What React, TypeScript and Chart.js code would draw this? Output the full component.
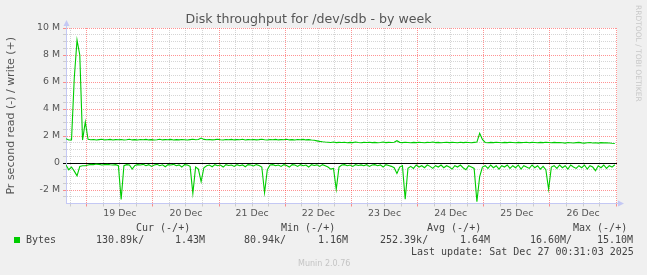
import React, { useEffect, useRef } from 'react';
import { Chart, registerables } from 'chart.js';

Chart.register(...registerables);

// Time axis: hours relative to 19 Dec 00:00, one sample per hour
const START_HOUR = -7.5;
const STEP_HOURS = 1;
const X_MIN = -7.5;
const X_MAX = 192.3;

const DAY_LABELS = ['19 Dec', '20 Dec', '21 Dec', '22 Dec', '23 Dec', '24 Dec', '25 Dec', '26 Dec'];

const TITLE = 'Disk throughput for /dev/sdb - by week';
const Y_TITLE = 'Pr second read (-) / write (+)';

// Write (+) bytes per second, in M
const WRITE_MB = [
  1.80, 1.70, 1.70, 6.30, 9.10, 8.00, 1.70, 3.05, 1.75, 1.72,
  1.74, 1.70, 1.73, 1.76, 1.71, 1.72, 1.75, 1.70, 1.73, 1.72,
  1.74, 1.70, 1.72, 1.76, 1.71, 1.73, 1.70, 1.74, 1.72, 1.75,
  1.71, 1.73, 1.70, 1.72, 1.76, 1.71, 1.73, 1.72, 1.75, 1.70,
  1.73, 1.71, 1.74, 1.72, 1.70, 1.73, 1.76, 1.72, 1.74, 1.85,
  1.75, 1.72, 1.74, 1.71, 1.73, 1.76, 1.72, 1.70, 1.74, 1.72,
  1.75, 1.71, 1.73, 1.72, 1.76, 1.70, 1.73, 1.72, 1.74, 1.71,
  1.73, 1.76, 1.72, 1.70, 1.74, 1.72, 1.75, 1.71, 1.73, 1.72,
  1.76, 1.71, 1.73, 1.70, 1.74, 1.72, 1.75, 1.71, 1.73, 1.70,
  1.68, 1.64, 1.60, 1.57, 1.55, 1.54, 1.52, 1.55, 1.51, 1.53,
  1.52, 1.54, 1.50, 1.53, 1.51, 1.55, 1.52, 1.50, 1.53, 1.52,
  1.54, 1.51, 1.53, 1.50, 1.52, 1.55, 1.51, 1.53, 1.52, 1.54,
  1.65, 1.53, 1.51, 1.54, 1.52, 1.50, 1.53, 1.51, 1.54, 1.52,
  1.50, 1.53, 1.52, 1.55, 1.51, 1.53, 1.50, 1.52, 1.54, 1.51,
  1.53, 1.52, 1.50, 1.54, 1.51, 1.53, 1.52, 1.50, 1.53, 1.55,
  2.20, 1.75, 1.52, 1.50, 1.53, 1.51, 1.54, 1.52, 1.50, 1.53,
  1.51, 1.54, 1.52, 1.50, 1.53, 1.51, 1.52, 1.54, 1.50, 1.53,
  1.52, 1.50, 1.53, 1.51, 1.54, 1.52, 1.50, 1.53, 1.51, 1.52,
  1.50, 1.47, 1.52, 1.50, 1.48, 1.51, 1.53, 1.49, 1.47, 1.50,
  1.52, 1.48, 1.50, 1.47, 1.51, 1.49, 1.50, 1.48, 1.46, 1.45,
];

// Read (-) bytes per second, in M (drawn negative)
const READ_MB = [
  -0.15, -0.50, -0.30, -0.60, -0.95, -0.25, -0.20, -0.20, -0.15, -0.10,
  -0.12, -0.08, -0.10, -0.15, -0.12, -0.10, -0.13, -0.15, -0.12, -0.20,
  -2.70, -0.20, -0.12, -0.15, -0.45, -0.18, -0.12, -0.15, -0.10, -0.20,
  -0.12, -0.25, -0.15, -0.10, -0.20, -0.13, -0.28, -0.12, -0.15, -0.10,
  -0.20, -0.14, -0.30, -0.12, -0.15, -0.25, -2.25, -0.30, -0.45, -1.38,
  -0.35, -0.20, -0.15, -0.28, -0.12, -0.20, -0.15, -0.30, -0.12, -0.18,
  -0.15, -0.25, -0.12, -0.20, -0.14, -0.28, -0.12, -0.15, -0.22, -0.12,
  -0.18, -0.30, -2.20, -0.50, -0.15, -0.12, -0.20, -0.15, -0.25, -0.12,
  -0.18, -0.30, -0.12, -0.15, -0.25, -0.12, -0.20, -0.15, -0.30, -0.12,
  -0.18, -0.14, -0.25, -0.12, -0.20, -0.30, -0.45, -0.40, -1.95, -0.30,
  -0.15, -0.12, -0.20, -0.15, -0.25, -0.12, -0.18, -0.14, -0.20, -0.12,
  -0.25, -0.15, -0.12, -0.20, -0.14, -0.30, -0.12, -0.18, -0.25, -0.35,
  -0.77, -0.30, -0.20, -2.69, -0.40, -0.25, -0.40, -0.15, -0.30, -0.20,
  -0.35, -0.15, -0.25, -0.40, -0.20, -0.30, -0.15, -0.35, -0.20, -0.30,
  -0.45, -0.20, -0.30, -0.15, -0.35, -0.50, -0.20, -0.30, -0.40, -2.86,
  -1.00, -0.30, -0.20, -0.40, -0.15, -0.35, -0.20, -0.45, -0.20, -0.30,
  -0.15, -0.40, -0.20, -0.35, -0.15, -0.45, -0.20, -0.30, -0.40, -0.15,
  -0.35, -0.20, -0.45, -0.25, -0.50, -1.95, -0.30, -0.20, -0.40, -0.15,
  -0.35, -0.20, -0.45, -0.15, -0.30, -0.40, -0.20, -0.35, -0.15, -0.45,
  -0.20, -0.30, -0.57, -0.20, -0.35, -0.15, -0.40, -0.20, -0.30, -0.13,
];

const Y_MIN = -3;
const Y_MAX = 10;
const Y_GRID_STEP = 0.5;
const Y_LABEL_STEP = 2;
const X_GRID_STEP = 6;
const HOURS_PER_DAY = 24;

const LEGEND_HEADERS = ['Cur (-/+)', 'Min (-/+)', 'Avg (-/+)', 'Max (-/+)'];
const LEGEND_SERIES = 'Bytes';
const LEGEND_VALUES = ['130.89k/', '1.43M', '80.94k/', '1.16M', '252.39k/', '1.64M', '16.60M/', '15.10M'];
const LAST_UPDATE = 'Last update: Sat Dec 27 00:31:03 2025';
const FOOTER = 'Munin 2.0.76';
const WATERMARK = 'RRDTOOL / TOBI OETIKER';

const GREEN = '#00CC00';
const AXIS = '#C4C8F4';
const MAJOR = 'rgba(255,40,40,0.5)';
const MINOR = 'rgba(150,150,150,0.4)';
const TEXT = '#555555';

const HEADER_X = [136, 281, 427, 573];
const VALUE_X = [96, 175, 244, 318, 380, 460, 530, 597];

const isMultiple = (v: number, step: number) => Math.abs(v / step - Math.round(v / step)) < 1e-6;

const decorPlugin = {
  id: 'decor',
  beforeDraw(chart: any) {
    const { ctx, chartArea } = chart;
    ctx.save();
    ctx.fillStyle = '#ffffff';
    ctx.fillRect(chartArea.left, chartArea.top, chartArea.right - chartArea.left, chartArea.bottom - chartArea.top);
    ctx.restore();
  },
  afterDraw(chart: any) {
    const { ctx, chartArea } = chart;
    const l = Math.round(chartArea.left) + 0.5;
    const b = Math.floor(chartArea.bottom) + 0.5;
    const r = chartArea.right;
    const t = chartArea.top;
    ctx.save();
    ctx.strokeStyle = AXIS;
    ctx.fillStyle = AXIS;
    ctx.lineWidth = 1;
    ctx.beginPath();
    ctx.moveTo(l, t);
    ctx.lineTo(l, t - 3);
    ctx.moveTo(r, b);
    ctx.lineTo(r + 2, b);
    ctx.stroke();
    ctx.beginPath();
    ctx.moveTo(l - 3, t - 2);
    ctx.lineTo(l + 3, t - 2);
    ctx.lineTo(l, t - 8);
    ctx.closePath();
    ctx.fill();
    ctx.beginPath();
    ctx.moveTo(r + 1, b - 3);
    ctx.lineTo(r + 1, b + 3);
    ctx.lineTo(r + 7, b);
    ctx.closePath();
    ctx.fill();
    ctx.restore();
  },
};

export default function App() {
  const ref = useRef<HTMLCanvasElement | null>(null);

  useEffect(() => {
    if (!ref.current) return;
    const hours = WRITE_MB.map((_, i) => START_HOUR + i * STEP_HOURS);
    const writeData = hours.map((h, i) => ({ x: h, y: WRITE_MB[i] }));
    const readData = hours.map((h, i) => ({ x: h, y: READ_MB[i] }));

    const chart = new Chart(ref.current, {
      type: 'line',
      data: {
        datasets: [
          { label: 'write', data: writeData, borderColor: GREEN, borderWidth: 1.1, pointRadius: 0, tension: 0, fill: false },
          { label: 'read', data: readData, borderColor: GREEN, borderWidth: 1.1, pointRadius: 0, tension: 0, fill: false },
        ],
      },
      options: {
        animation: false,
        responsive: false,
        devicePixelRatio: 1,
        layout: { padding: { left: 0, right: 30, top: 0, bottom: 0 } },
        plugins: {
          legend: { display: false },
          tooltip: { enabled: false },
          title: {
            display: true,
            text: TITLE,
            color: TEXT,
            font: { family: 'DejaVu Sans', size: 12.6, weight: 'normal', lineHeight: 1 },
            padding: { top: 13.8, bottom: 1.6 },
          },
        },
        scales: {
          x: {
            type: 'linear',
            min: X_MIN,
            max: X_MAX,
            afterBuildTicks(scale: any) {
              const ticks = [];
              for (let v = Math.ceil(X_MIN / X_GRID_STEP) * X_GRID_STEP; v <= X_MAX; v += X_GRID_STEP) ticks.push({ value: v });
              scale.ticks = ticks;
            },
            afterFit(scale: any) {
              scale.height = 71.5;
            },
            ticks: {
              autoSkip: false,
              maxRotation: 0,
              minRotation: 0,
              padding: 1,
              color: TEXT,
              font: { family: 'DejaVu Sans', size: 9.4 },
              callback: (v: any) => {
                const n = Number(v);
                if (isMultiple(n - HOURS_PER_DAY / 2, HOURS_PER_DAY)) {
                  const d = Math.round((n - HOURS_PER_DAY / 2) / HOURS_PER_DAY);
                  return DAY_LABELS[d] ?? '';
                }
                return '';
              },
            },
            grid: {
              color: (c: any) => {
                const v = Number(c.tick?.value ?? 1);
                return isMultiple(v, HOURS_PER_DAY) ? MAJOR : MINOR;
              },
              lineWidth: 1,
              tickLength: 3,
              drawTicks: true,
            },
            border: { display: true, color: AXIS, width: 1, dash: [1, 1] },
          },
          y: {
            type: 'linear',
            min: Y_MIN,
            max: Y_MAX,
            afterBuildTicks(scale: any) {
              const ticks = [];
              for (let v = Y_MIN; v <= Y_MAX + 1e-9; v += Y_GRID_STEP) ticks.push({ value: Math.round(v * 10) / 10 });
              scale.ticks = ticks;
            },
            afterFit(scale: any) {
              scale.width = 66;
            },
            title: {
              display: true,
              text: Y_TITLE,
              color: TEXT,
              font: { family: 'DejaVu Sans', size: 11 },
              padding: { top: 4.5, bottom: 0 },
            },
            ticks: {
              autoSkip: false,
              padding: 3,
              color: TEXT,
              font: { family: 'DejaVu Sans', size: 9.4 },
              callback: (v: any) => {
                const n = Number(v);
                if (n >= -2 && isMultiple(n, Y_LABEL_STEP)) return n === 0 ? '0' : `${n} M`;
                return '';
              },
            },
            grid: {
              color: (c: any) => {
                const v = Number(c.tick?.value ?? 1);
                if (v === Y_MIN) return 'rgba(0,0,0,0)';
                if (v === 0) return '#000000';
                return isMultiple(v, Y_LABEL_STEP) ? MAJOR : MINOR;
              },
              lineWidth: 1,
              tickLength: 3,
              drawTicks: true,
            },
            border: {
              display: true,
              color: AXIS,
              width: 1,
              dash: (c: any) => (Number(c.tick?.value ?? 1) === 0 ? [] : [1, 1]),
            },
          },
        },
      },
      plugins: [decorPlugin],
    } as any);
    return () => chart.destroy();
  }, []);

  const mono: React.CSSProperties = {
    position: 'absolute',
    fontFamily: "'DejaVu Sans Mono', monospace",
    fontSize: '10px',
    lineHeight: '12px',
    color: '#444',
    whiteSpace: 'pre',
  };

  return (
    <div style={{ position: 'fixed', left: 0, top: 0, width: 647, height: 275, background: '#F0F0F0', overflow: 'hidden' }}>
      <canvas ref={ref} width={647} height={275} style={{ display: 'block', width: 647, height: 275 }} />
      {LEGEND_HEADERS.map((h, i) => (
        <span key={h} style={{ ...mono, left: HEADER_X[i], top: 221.5 }}>{h}</span>
      ))}
      <span style={{ position: 'absolute', left: 14, top: 237, width: 6, height: 6, background: GREEN }} />
      <span style={{ ...mono, left: 26, top: 234 }}>{LEGEND_SERIES}</span>
      {LEGEND_VALUES.map((v, i) => (
        <span key={i} style={{ ...mono, left: VALUE_X[i], top: 234 }}>{v}</span>
      ))}
      <span style={{ ...mono, left: 411, top: 246 }}>{LAST_UPDATE}</span>
      <span style={{ position: 'absolute', left: 298, top: 259, fontFamily: "'DejaVu Sans'", fontSize: '8px', lineHeight: '10px', color: '#C4C4C4', whiteSpace: 'pre' }}>{FOOTER}</span>
      <span style={{ position: 'absolute', left: 634, top: 5, writingMode: 'vertical-rl', fontFamily: "'DejaVu Sans'", fontSize: '7.5px', lineHeight: '9px', color: '#C8C8C8', whiteSpace: 'pre' }}>{WATERMARK}</span>
    </div>
  );
}
